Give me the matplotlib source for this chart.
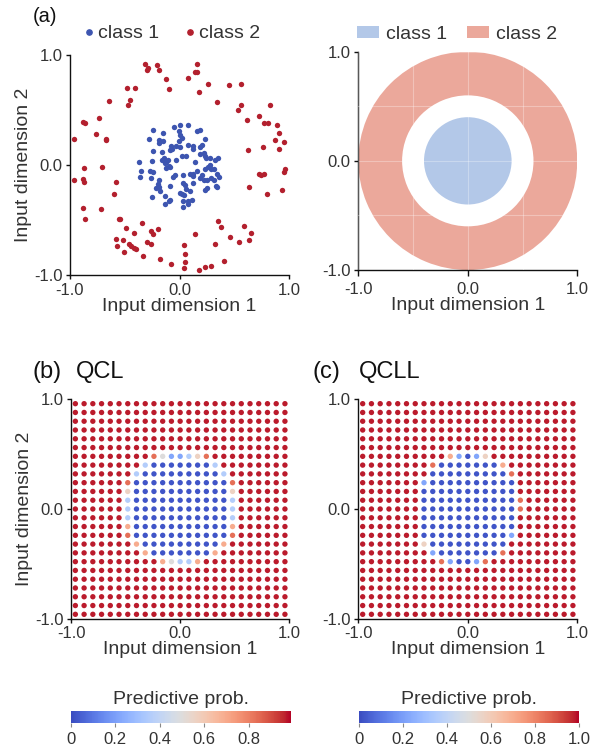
import numpy as np
import matplotlib.pyplot as plt
from matplotlib.patches import Wedge, Circle, Patch
from matplotlib.lines import Line2D
from matplotlib.colors import Normalize
from matplotlib.cm import ScalarMappable

plt.rcParams['font.family'] = ['Liberation Sans', 'DejaVu Sans']
plt.rcParams['axes.unicode_minus'] = False

TXT = '#333333'
BLUE = '#3d55b0'
RED = '#b3202e'

# (a) training data
class1_points = [
    (-0.24, 0.32), (-0.15, 0.29), (-0.05, 0.35), (0.00, 0.36), (0.08, 0.36), (0.16, 0.31),
    (0.19, 0.32), (-0.28, 0.24), (-0.19, 0.23), (-0.15, 0.22), (-0.19, 0.20), (-0.01, 0.31),
    (0.00, 0.27), (0.02, 0.25), (-0.01, 0.22), (0.23, 0.24), (-0.24, 0.13), (-0.16, 0.12),
    (-0.09, 0.14), (-0.07, 0.15), (-0.08, 0.17), (-0.03, 0.17), (0.00, 0.16), (0.08, 0.18),
    (0.12, 0.17), (0.12, 0.15), (0.19, 0.16), (0.20, 0.18), (0.22, 0.11), (0.23, 0.08),
    (0.19, 0.10), (0.24, 0.06), (0.28, 0.06), (0.32, 0.05), (0.35, 0.06), (-0.37, 0.03),
    (-0.25, 0.04), (-0.16, 0.05), (-0.14, 0.06), (-0.12, 0.03), (-0.13, 0.02), (-0.11, 0.05),
    (-0.03, 0.05), (0.02, 0.08), (0.06, 0.08), (0.14, 0.03), (0.28, 0.00), (0.26, -0.02),
    (0.29, -0.04), (0.16, -0.05), (0.23, -0.04), (0.31, -0.04), (-0.35, -0.05), (-0.27, -0.05),
    (-0.24, -0.06), (-0.10, -0.01), (-0.09, -0.02), (-0.12, -0.03), (-0.36, -0.11), (-0.26, -0.12),
    (-0.19, -0.14), (-0.06, -0.11), (-0.04, -0.09), (0.03, -0.09), (0.09, -0.08), (0.12, -0.08),
    (0.12, -0.10), (0.19, -0.12), (0.22, -0.14), (0.20, -0.09), (0.25, -0.14), (0.29, -0.12),
    (0.31, -0.14), (0.34, -0.08), (0.36, -0.11), (0.33, -0.19), (0.34, -0.20), (-0.20, -0.17),
    (-0.19, -0.20), (-0.22, -0.21), (-0.09, -0.19), (0.03, -0.16), (0.05, -0.18), (0.12, -0.16),
    (0.25, -0.21), (0.23, -0.23), (0.06, -0.22), (0.09, -0.24), (0.00, -0.25), (0.02, -0.26),
    (0.04, -0.27), (-0.18, -0.24), (-0.13, -0.28), (-0.25, -0.29), (-0.09, -0.32), (-0.10, -0.33),
    (-0.13, -0.35), (0.03, -0.33), (0.08, -0.33), (0.11, -0.32), (0.03, -0.38), (0.08, -0.35),
]
class2_points = [
    (-0.32, 0.92), (-0.29, 0.88), (-0.30, 0.86), (-0.21, 0.91), (-0.19, 0.86), (-0.12, 0.78),
    (-0.10, 0.69), (-0.48, 0.70), (-0.41, 0.70), (-0.45, 0.59), (-0.47, 0.55), (-0.64, 0.58),
    (-0.88, 0.39), (-0.86, 0.38), (-0.74, 0.43), (-0.96, 0.24), (-0.76, 0.28), (-0.67, 0.24),
    (-0.67, 0.23), (-0.87, -0.03), (-0.71, -0.02), (-0.96, -0.14), (-0.88, -0.13), (-0.87, -0.15),
    (-0.58, -0.15), (-0.60, -0.26), (-0.88, -0.39), (-0.86, -0.49), (-0.72, -0.40), (-0.55, -0.49),
    (-0.54, -0.49), (-0.34, -0.53), (-0.49, -0.57), (-0.20, -0.58), (-0.26, -0.60), (-0.24, -0.63),
    (-0.42, -0.62), (-0.58, -0.67), (-0.52, -0.68), (-0.57, -0.74), (-0.46, -0.72), (-0.44, -0.74),
    (-0.42, -0.75), (-0.40, -0.76), (-0.30, -0.70), (-0.26, -0.72), (-0.51, -0.79), (-0.33, -0.83),
    (-0.18, -0.85), (-0.08, -0.90), (0.04, -0.73), (0.05, -0.81), (0.05, -0.88), (0.04, -0.94),
    (0.18, -0.95), (0.23, -0.93), (0.29, -0.92), (0.40, -0.87), (0.32, -0.72), (0.14, -0.63),
    (0.35, -0.51), (0.38, -0.56), (0.46, -0.65), (0.54, -0.70), (0.59, -0.55), (0.65, -0.62),
    (0.63, -0.68), (0.16, 0.92), (0.14, 0.85), (0.16, 0.85), (0.08, 0.79), (0.26, 0.74),
    (0.18, 0.66), (0.45, 0.73), (0.56, 0.74), (0.34, 0.57), (0.56, 0.55), (0.53, 0.50),
    (0.82, 0.55), (0.72, 0.45), (0.61, 0.41), (0.77, 0.38), (0.81, 0.38), (0.89, 0.36),
    (0.91, 0.29), (0.87, 0.23), (0.95, 0.21), (0.91, 0.15), (0.76, 0.16), (0.62, 0.14),
    (0.96, -0.04), (0.95, -0.06), (0.72, -0.08), (0.74, -0.09), (0.77, -0.08), (0.63, -0.20),
    (0.80, -0.26), (0.93, -0.23),
]

# true class regions
disk_radius = 0.4
ring_inner = 0.6
ring_outer = 1.0

# (b), (c) predictive probability on a 25 x 25 grid, rows from top to bottom
grid_coords = [-0.96, -0.88, -0.80, -0.72, -0.64, -0.56, -0.48, -0.40, -0.32, -0.24, -0.16, -0.08,
               0.00, 0.08, 0.16, 0.24, 0.32, 0.40, 0.48, 0.56, 0.64, 0.72, 0.80, 0.88, 0.96]
prob_levels = {'B': 0.02, 'm': 0.22, 'l': 0.36, 'g': 0.50, 'w': 0.57, 'o': 0.70, 'r': 0.84, 'R': 0.98}
ALL_RED = 'RRRRRRRRRRRRRRRRRRRRRRRRR'
qcl_rows = [ALL_RED] * 6 + [
    'RRRRRRRRRrgmmlwrRRRRRRRRR',
    'RRRRRRRRlBBBBBBBlRRRRRRRR',
    'RRRRRRRlBBBBBBBBBlRRRRRRR',
    'RRRRRRrBBBBBBBBBBBrRRRRRR',
    'RRRRRRwBBBBBBBBBBBwRRRRRR',
    'RRRRRRlBBBBBBBBBBBlRRRRRR',
    'RRRRRRlBBBBBBBBBBBlRRRRRR',
    'RRRRRRlBBBBBBBBBBBlRRRRRR',
    'RRRRRRoBBBBBBBBBBBoRRRRRR',
    'RRRRRRrBBBBBBBBBBBrRRRRRR',
    'RRRRRRRoBBBBBBBBBoRRRRRRR',
    'RRRRRRRRoBBBBBBBoRRRRRRRR',
    'RRRRRRRRRRoglloRRRRRRRRRR',
] + [ALL_RED] * 6
qcll_rows = [ALL_RED] * 6 + [
    'RRRRRRRRRRomBmwRRRRRRRRRR',
    'RRRRRRRRrBBBBBBBoRRRRRRRR',
    'RRRRRRRRBBBBBBBBBrRRRRRRR',
    'RRRRRRRmBBBBBBBBBBRRRRRRR',
    'RRRRRRRBBBBBBBBBBBRRRRRRR',
    'RRRRRRRBBBBBBBBBBBrRRRRRR',
    'RRRRRRRBBBBBBBBBBBrRRRRRR',
    'RRRRRRRBBBBBBBBBBBRRRRRRR',
    'RRRRRRRBBBBBBBBBBBRRRRRRR',
    'RRRRRRRBBBBBBBBBBmRRRRRRR',
    'RRRRRRRwBBBBBBBBBRRRRRRRR',
    'RRRRRRRRmBBBBBBBrRRRRRRRR',
    'RRRRRRRRRrmBBmrRRRRRRRRRR',
] + [ALL_RED] * 6

cbar_ticks_b = [0, 0.2, 0.4, 0.6, 0.8]
cbar_ticks_c = [0, 0.2, 0.4, 0.6, 0.8, 1.0]
cbar_labels_b = ['0', '0.2', '0.4', '0.6', '0.8']
cbar_labels_c = ['0', '0.2', '0.4', '0.6', '0.8', '1.0']

LABEL_FS = 14
TICK_FS = 12


def to_grid(rows):
    return np.array([[prob_levels[ch] for ch in row] for row in rows])


def style_axes(ax, ylabel=True):
    ax.set_xlim(-1, 1)
    ax.set_ylim(-1, 1)
    ax.set_xticks([-1, 0, 1])
    ax.set_yticks([-1, 0, 1])
    ax.set_xticklabels(['-1.0', '0.0', '1.0'])
    ax.set_yticklabels(['-1.0', '0.0', '1.0'])
    for s in ['top', 'right']:
        ax.spines[s].set_visible(False)
    for s in ['left', 'bottom']:
        ax.spines[s].set_color('#111111')
        ax.spines[s].set_linewidth(1.0)
    ax.tick_params(length=3, width=1, pad=2.5, labelsize=TICK_FS, labelcolor=TXT, color='#111111')
    ax.set_xlabel('Input dimension 1', fontsize=LABEL_FS, color=TXT, labelpad=0)
    if ylabel:
        ax.set_ylabel('Input dimension 2', fontsize=LABEL_FS, color=TXT, labelpad=1)


W, H = 601, 751
fig = plt.figure(figsize=(W / 100, H / 100), dpi=100)


def px_axes(x0, y_top, x1, y_bot):
    return fig.add_axes([x0 / W, 1 - y_bot / H, (x1 - x0) / W, (y_bot - y_top) / H])


# (a) left: data
ax1 = px_axes(70, 55, 289.3, 275)
c1 = np.array(class1_points)
c2 = np.array(class2_points)
ax1.scatter(c1[:, 0], c1[:, 1], s=15, color=BLUE, linewidths=0, clip_on=False)
ax1.scatter(c2[:, 0], c2[:, 1], s=15, color=RED, linewidths=0, clip_on=False)
style_axes(ax1)
h1 = [Line2D([], [], marker='o', ls='', color=BLUE, markersize=3.8, label='class 1'),
      Line2D([], [], marker='o', ls='', color=RED, markersize=3.8, label='class 2')]
ax1.legend(handles=h1, loc='lower center', bbox_to_anchor=(0.455, 1.004), ncol=2, frameon=False,
           fontsize=LABEL_FS, handletextpad=0.0, columnspacing=1.05, borderaxespad=0.2,
           labelcolor=TXT, handlelength=1.0)

# (a) right: true regions
ax2 = px_axes(358.3, 51.7, 577.3, 270)
ax2.add_patch(Wedge((0, 0), ring_outer, 0, 360, width=ring_outer - ring_inner,
                    facecolor='#eba89b', edgecolor='none'))
ax2.add_patch(Circle((0, 0), disk_radius, facecolor='#b3c8e8', edgecolor='none'))
ax2.set_axisbelow(False)
ax2.set_xticks([-0.5, 0.5], minor=True)
ax2.set_yticks([-0.5, 0.5], minor=True)
ax2.grid(True, which='both', color='white', linewidth=0.8, alpha=0.3)
style_axes(ax2, ylabel=False)
ax2.tick_params(which='minor', length=0)
ax2.tick_params(axis='x', which='major', length=4, pad=5)
h2 = [Patch(facecolor='#b3c8e8', label='class 1'), Patch(facecolor='#eba89b', label='class 2')]
ax2.legend(handles=h2, loc='lower center', bbox_to_anchor=(0.45, 0.986), ncol=2, frameon=False,
           fontsize=LABEL_FS, handletextpad=0.35, columnspacing=1.0, borderaxespad=0.2,
           labelcolor=TXT, handlelength=1.15, handleheight=0.6)

# (b), (c) predictive probability
xx, yy = np.meshgrid(grid_coords, grid_coords[::-1])
panels = [
    (qcl_rows, (71, 399.3, 289.3, 618.7), (71, 711, 290.7, 722.7), 0.99, cbar_ticks_b, cbar_labels_b),
    (qcll_rows, (358.3, 399.3, 577.3, 618.7), (359, 711, 579, 722.7), 1.0, cbar_ticks_c, cbar_labels_c),
]
for k, (rows, box, cbox, vmax, ticks, labels) in enumerate(panels):
    ax = px_axes(*box)
    prob = to_grid(rows)
    ax.scatter(xx.ravel(), yy.ravel(), c=prob.ravel(), cmap='coolwarm', vmin=0, vmax=1,
               s=15, linewidths=0, clip_on=False)
    style_axes(ax, ylabel=(k == 0))
    cax = px_axes(*cbox)
    cb = fig.colorbar(ScalarMappable(norm=Normalize(0, vmax), cmap='coolwarm'), cax=cax,
                      orientation='horizontal')
    cb.outline.set_visible(False)
    cb.set_ticks(ticks)
    cb.set_ticklabels(labels)
    cax.tick_params(length=3, width=0.8, color='#888888', labelsize=TICK_FS, labelcolor=TXT, pad=4)
    cax.set_title('Predictive prob.', fontsize=LABEL_FS, color=TXT, pad=5)

fig.text(33 / W, 1 - 16 / H, '(a)', fontsize=14.5, color='#111111', va='center', ha='left')
fig.text(33 / W, 1 - 372 / H, '(b)', fontsize=17, color='#111111', va='center', ha='left')
fig.text(76 / W, 1 - 372 / H, 'QCL', fontsize=17, color='#111111', va='center', ha='left')
fig.text(312 / W, 1 - 372 / H, '(c)', fontsize=17, color='#111111', va='center', ha='left')
fig.text(359 / W, 1 - 372 / H, 'QCLL', fontsize=17, color='#111111', va='center', ha='left')

fig.savefig('out.png', dpi=100)
